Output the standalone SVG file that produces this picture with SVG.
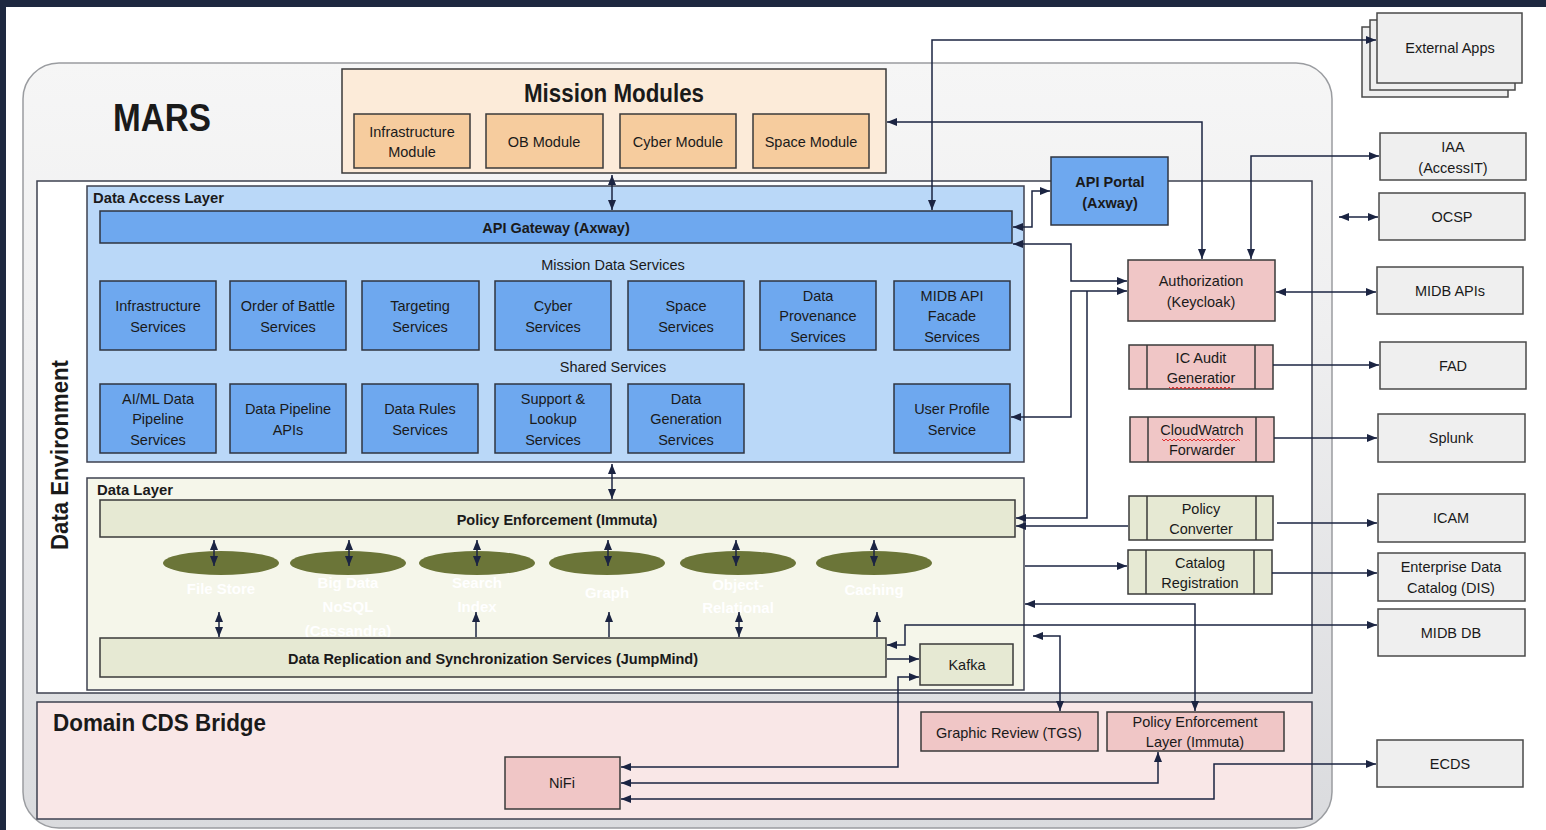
<svg xmlns="http://www.w3.org/2000/svg" width="1546" height="830" viewBox="0 0 1546 830">
<defs>
<linearGradient id="marsg" x1="0" y1="0" x2="0" y2="1">
<stop offset="0" stop-color="#f6f6f6"/>
<stop offset="0.35" stop-color="#efeff0"/>
<stop offset="1" stop-color="#dadbde"/>
</linearGradient>
<marker id="ah" viewBox="0 0 10 8" refX="10" refY="4" markerWidth="10" markerHeight="8" markerUnits="userSpaceOnUse" orient="auto-start-reverse">
<path d="M0,0 L10,4 L0,8 z" fill="#1b2442"/>
</marker>
<style>
text{font-family:"Liberation Sans",Arial,sans-serif;fill:#1a1a1a}
.t{font-size:14.5px;text-anchor:middle}
.b{font-weight:bold}
.svc{fill:#6ea8ef;stroke:#2f3440;stroke-width:1.5}
.mod{fill:#f6cc9e;stroke:#3a3a3a;stroke-width:1.5}
.ext{fill:#efefef;stroke:#4a4a4a;stroke-width:1.5}
.pink{fill:#f0c6c6;stroke:#3a3a3a;stroke-width:1.5}
.grn{fill:#e6e9d3;stroke:#3a3a3a;stroke-width:1.5}
.el{fill:#6b7538}
.wl{fill:#ffffff;font-weight:bold;font-size:15px;text-anchor:middle}
.c{fill:none;stroke:#1b2442;stroke-width:1.5}
.both{marker-start:url(#ah);marker-end:url(#ah)}
.end{marker-end:url(#ah)}
.sq{fill:none;stroke:#e03030;stroke-width:1}
</style>
</defs>
<rect x="0" y="0" width="1546" height="830" fill="#ffffff"/>
<rect x="0" y="0" width="1546" height="7" fill="#1e2840"/>
<rect x="0" y="0" width="6" height="830" fill="#1e2840"/>

<g id="mars">
<rect x="23" y="63" width="1309" height="765" rx="36" fill="url(#marsg)" stroke="#9a9ca0" stroke-width="1.5"/>
<text x="113" y="131" font-size="38" class="b" textLength="98" lengthAdjust="spacingAndGlyphs">MARS</text>
</g>

<g id="mission-modules">
<rect x="342" y="69" width="544" height="104" fill="#fcebd9" stroke="#3a3a3a" stroke-width="1.5"/>
<text x="614" y="102" font-size="25" class="b" text-anchor="middle" textLength="180" lengthAdjust="spacingAndGlyphs">Mission Modules</text>
</g>
<g id="infra-module"><rect class="mod" x="354" y="114" width="116" height="54"/><text class="t" x="412" y="137">Infrastructure</text><text class="t" x="412" y="157">Module</text></g>
<g id="ob-module"><rect class="mod" x="486" y="114" width="117" height="54"/><text class="t" x="544" y="147">OB Module</text></g>
<g id="cyber-module"><rect class="mod" x="620" y="114" width="116" height="54"/><text class="t" x="678" y="147">Cyber Module</text></g>
<g id="space-module"><rect class="mod" x="753" y="114" width="116" height="54"/><text class="t" x="811" y="147">Space Module</text></g>

<g id="data-environment">
<rect x="37" y="181" width="1275" height="512" fill="#ffffff" stroke="#3e4150" stroke-width="1.5"/>
<text transform="translate(68,455) rotate(-90)" font-size="24" class="b" text-anchor="middle" textLength="190" lengthAdjust="spacingAndGlyphs">Data Environment</text>
</g>

<g id="data-access-layer">
<rect x="87" y="186" width="937" height="276" fill="#bad8f8" stroke="#3e4150" stroke-width="1.5"/>
<text x="93" y="203" font-size="15" class="b" textLength="131" lengthAdjust="spacingAndGlyphs">Data Access Layer</text>
<text class="t" x="613" y="270">Mission Data Services</text>
<text class="t" x="613" y="372">Shared Services</text>
</g>
<g id="api-gateway"><rect class="svc" x="100" y="211" width="912" height="32"/><text class="t b" x="556" y="233" font-size="14">API Gateway (Axway)</text></g>

<g id="infra-svc"><rect class="svc" x="100" y="281" width="116" height="69"/><text class="t" x="158" y="311">Infrastructure</text><text class="t" x="158" y="332">Services</text></g>
<g id="oob-svc"><rect class="svc" x="230" y="281" width="116" height="69"/><text class="t" x="288" y="311">Order of Battle</text><text class="t" x="288" y="332">Services</text></g>
<g id="targeting-svc"><rect class="svc" x="362" y="281" width="117" height="69"/><text class="t" x="420" y="311">Targeting</text><text class="t" x="420" y="332">Services</text></g>
<g id="cyber-svc"><rect class="svc" x="495" y="281" width="116" height="69"/><text class="t" x="553" y="311">Cyber</text><text class="t" x="553" y="332">Services</text></g>
<g id="space-svc"><rect class="svc" x="628" y="281" width="116" height="69"/><text class="t" x="686" y="311">Space</text><text class="t" x="686" y="332">Services</text></g>
<g id="provenance-svc"><rect class="svc" x="760" y="281" width="116" height="69"/><text class="t" x="818" y="301">Data</text><text class="t" x="818" y="321">Provenance</text><text class="t" x="818" y="342">Services</text></g>
<g id="midb-facade"><rect class="svc" x="894" y="281" width="116" height="69"/><text class="t" x="952" y="301">MIDB API</text><text class="t" x="952" y="321">Facade</text><text class="t" x="952" y="342">Services</text></g>

<g id="aiml-svc"><rect class="svc" x="100" y="384" width="116" height="69"/><text class="t" x="158" y="404">AI/ML Data</text><text class="t" x="158" y="424">Pipeline</text><text class="t" x="158" y="445">Services</text></g>
<g id="pipeline-apis"><rect class="svc" x="230" y="384" width="116" height="69"/><text class="t" x="288" y="414">Data Pipeline</text><text class="t" x="288" y="435">APIs</text></g>
<g id="rules-svc"><rect class="svc" x="362" y="384" width="116" height="69"/><text class="t" x="420" y="414">Data Rules</text><text class="t" x="420" y="435">Services</text></g>
<g id="lookup-svc"><rect class="svc" x="495" y="384" width="116" height="69"/><text class="t" x="553" y="404">Support &amp;</text><text class="t" x="553" y="424">Lookup</text><text class="t" x="553" y="445">Services</text></g>
<g id="generation-svc"><rect class="svc" x="628" y="384" width="116" height="69"/><text class="t" x="686" y="404">Data</text><text class="t" x="686" y="424">Generation</text><text class="t" x="686" y="445">Services</text></g>
<g id="user-profile"><rect class="svc" x="894" y="384" width="116" height="69"/><text class="t" x="952" y="414">User Profile</text><text class="t" x="952" y="435">Service</text></g>

<g id="api-portal"><rect class="svc" x="1051" y="157" width="117" height="68"/><text class="t b" x="1110" y="187" font-size="14">API Portal</text><text class="t b" x="1110" y="208" font-size="14">(Axway)</text></g>

<g id="data-layer">
<rect x="87" y="478" width="937" height="212" fill="#f5f6ea" stroke="#3e4150" stroke-width="1.5"/>
<text x="97" y="495" font-size="15" class="b" textLength="76" lengthAdjust="spacingAndGlyphs">Data Layer</text>
</g>
<g id="policy-enforcement"><rect class="grn" x="100" y="500" width="915" height="37"/><text class="t b" x="557" y="525" font-size="14">Policy Enforcement (Immuta)</text></g>
<g id="file-store"><ellipse class="el" cx="221" cy="563" rx="58" ry="12"/><text class="wl" x="221" y="594">File Store</text></g>
<g id="big-data"><ellipse class="el" cx="348" cy="563" rx="58" ry="12"/><text class="wl" x="348" y="588">Big Data</text><text class="wl" x="348" y="612">NoSQL</text><text class="wl" x="348" y="636">(Cassandra)</text></g>
<g id="search-index"><ellipse class="el" cx="477" cy="563" rx="58" ry="12"/><text class="wl" x="477" y="588">Search</text><text class="wl" x="477" y="612">Index</text></g>
<g id="graph"><ellipse class="el" cx="607" cy="563" rx="58" ry="12"/><text class="wl" x="607" y="598">Graph</text></g>
<g id="object-relational"><ellipse class="el" cx="738" cy="563" rx="58" ry="12"/><text class="wl" x="738" y="590">Object-</text><text class="wl" x="738" y="613">Relational</text></g>
<g id="caching"><ellipse class="el" cx="874" cy="563" rx="58" ry="12"/><text class="wl" x="874" y="595">Caching</text></g>
<g id="replication"><rect class="grn" x="100" y="638" width="786" height="39"/><text class="t b" x="493" y="664" font-size="14">Data Replication and Synchronization Services (JumpMind)</text></g>
<g id="kafka"><rect class="grn" x="920" y="644" width="93" height="41"/><text class="t" x="967" y="670">Kafka</text></g>

<g id="domain-cds-bridge">
<rect x="37" y="702" width="1275" height="117" fill="#f9e7e7" stroke="#3e4150" stroke-width="1.5"/>
<text x="53" y="731" font-size="24" class="b" textLength="213" lengthAdjust="spacingAndGlyphs">Domain CDS Bridge</text>
</g>
<g id="tgs"><rect class="pink" x="921" y="712" width="177" height="39"/><text class="t" x="1009" y="738">Graphic Review (TGS)</text></g>
<g id="pel"><rect class="pink" x="1107" y="712" width="177" height="39"/><text class="t" x="1195" y="727">Policy Enforcement</text><text class="t" x="1195" y="747">Layer (Immuta)</text></g>
<g id="nifi"><rect class="pink" x="505" y="757" width="115" height="52"/><text class="t" x="562" y="788">NiFi</text></g>

<g id="authorization"><rect class="pink" x="1128" y="260" width="147" height="61"/><text class="t" x="1201" y="286">Authorization</text><text class="t" x="1201" y="307">(Keycloak)</text></g>
<g id="ic-audit"><rect class="pink" x="1129" y="345" width="144" height="44"/><line x1="1147" y1="345" x2="1147" y2="389" stroke="#3a3a3a" stroke-width="1.5"/><line x1="1255" y1="345" x2="1255" y2="389" stroke="#3a3a3a" stroke-width="1.5"/><text class="t" x="1201" y="363">IC Audit</text><text class="t" x="1201" y="383">Generatior</text><path class="sq" d="M1169,387 l2,2 l2,-2 l2,2 l2,-2 l2,2 l2,-2 l2,2 l2,-2 l2,2 l2,-2 l2,2 l2,-2 l2,2 l2,-2 l2,2 l2,-2 l2,2 l2,-2 l2,2 l2,-2 l2,2 l2,-2 l2,2 l2,-2 l2,2 l2,-2 l2,2 l2,-2 l2,2 l2,-2 l2,2"/></g>
<g id="cloudwatch"><rect class="pink" x="1130" y="417" width="144" height="45"/><line x1="1148" y1="417" x2="1148" y2="462" stroke="#3a3a3a" stroke-width="1.5"/><line x1="1256" y1="417" x2="1256" y2="462" stroke="#3a3a3a" stroke-width="1.5"/><text class="t" x="1202" y="435">CloudWatrch</text><text class="t" x="1202" y="455">Forwarder</text><path class="sq" d="M1162,439 l2,2 l2,-2 l2,2 l2,-2 l2,2 l2,-2 l2,2 l2,-2 l2,2 l2,-2 l2,2 l2,-2 l2,2 l2,-2 l2,2 l2,-2 l2,2 l2,-2 l2,2 l2,-2 l2,2 l2,-2 l2,2 l2,-2 l2,2 l2,-2 l2,2 l2,-2 l2,2 l2,-2 l2,2 l2,-2 l2,2 l2,-2 l2,2 l2,-2 l2,2 l2,-2 l2,2"/></g>
<g id="policy-converter"><rect class="grn" x="1129" y="496" width="144" height="44"/><line x1="1147" y1="496" x2="1147" y2="540" stroke="#3a3a3a" stroke-width="1.5"/><line x1="1256" y1="496" x2="1256" y2="540" stroke="#3a3a3a" stroke-width="1.5"/><text class="t" x="1201" y="514">Policy</text><text class="t" x="1201" y="534">Converter</text></g>
<g id="catalog-registration"><rect class="grn" x="1128" y="550" width="144" height="44"/><line x1="1146" y1="550" x2="1146" y2="594" stroke="#3a3a3a" stroke-width="1.5"/><line x1="1254" y1="550" x2="1254" y2="594" stroke="#3a3a3a" stroke-width="1.5"/><text class="t" x="1200" y="568">Catalog</text><text class="t" x="1200" y="588">Registration</text></g>

<g id="external-apps">
<rect class="ext" x="1362" y="27" width="146" height="70"/>
<rect class="ext" x="1370" y="20" width="145" height="70"/>
<rect class="ext" x="1377" y="13" width="145" height="70"/>
<text class="t" x="1450" y="53">External Apps</text>
</g>
<g id="iaa"><rect class="ext" x="1380" y="133" width="146" height="47"/><text class="t" x="1453" y="152">IAA</text><text class="t" x="1453" y="173">(AccessIT)</text></g>
<g id="ocsp"><rect class="ext" x="1379" y="193" width="146" height="47"/><text class="t" x="1452" y="222">OCSP</text></g>
<g id="midb-apis"><rect class="ext" x="1377" y="267" width="146" height="47"/><text class="t" x="1450" y="296">MIDB APIs</text></g>
<g id="fad"><rect class="ext" x="1380" y="342" width="146" height="47"/><text class="t" x="1453" y="371">FAD</text></g>
<g id="splunk"><rect class="ext" x="1378" y="414" width="147" height="48"/><text class="t" x="1451" y="443">Splunk</text></g>
<g id="icam"><rect class="ext" x="1378" y="494" width="147" height="48"/><text class="t" x="1451" y="523">ICAM</text></g>
<g id="edc"><rect class="ext" x="1378" y="553" width="147" height="48"/><text class="t" x="1451" y="572">Enterprise Data</text><text class="t" x="1451" y="593">Catalog (DIS)</text></g>
<g id="midb-db"><rect class="ext" x="1378" y="609" width="147" height="47"/><text class="t" x="1451" y="638">MIDB DB</text></g>
<g id="ecds"><rect class="ext" x="1377" y="740" width="146" height="47"/><text class="t" x="1450" y="769">ECDS</text></g>

<g id="connectors">
<path class="c both" d="M612,175 L612,210"/>
<path class="c both" d="M612,464 L612,499"/>
<path class="c both" d="M214,540 L214,566"/>
<path class="c both" d="M349,540 L349,566"/>
<path class="c both" d="M477,540 L477,566"/>
<path class="c both" d="M608,540 L608,566"/>
<path class="c both" d="M736,540 L736,566"/>
<path class="c both" d="M874,540 L874,566"/>
<path class="c both" d="M219,612 L219,637"/>
<path class="c end" d="M476,637 L476,612"/>
<path class="c end" d="M609,637 L609,612"/>
<path class="c both" d="M739,612 L739,637"/>
<path class="c end" d="M877,637 L877,612"/>
<path class="c both" d="M932,210 L932,40 L1376,40"/>
<path class="c both" d="M887,122 L1202,122 L1202,259"/>
<path class="c both" d="M1251,259 L1251,156 L1379,156"/>
<path class="c both" d="M1339,217 L1378,217"/>
<path class="c both" d="M1013,227 L1032,227 L1032,191 L1050,191"/>
<path class="c both" d="M1013,244 L1071,244 L1071,281 L1127,281"/>
<path class="c both" d="M1011,417 L1071,417 L1071,291 L1127,291"/>
<path class="c" d="M1016,518 L1087,518 L1087,291" marker-start="url(#ah)"/>
<path class="c end" d="M1128,526 L1016,526"/>
<path class="c end" d="M1025,566 L1127,566"/>
<path class="c both" d="M1276,292 L1376,292"/>
<path class="c end" d="M1273,365 L1379,365"/>
<path class="c end" d="M1274,438 L1377,438"/>
<path class="c end" d="M1277,523 L1377,523"/>
<path class="c end" d="M1272,573 L1377,573"/>
<path class="c both" d="M887,645 L905,645 L905,625 L1377,625"/>
<path class="c both" d="M1025,604 L1195,604 L1195,711"/>
<path class="c both" d="M1033,636 L1060,636 L1060,711"/>
<path class="c end" d="M887,659 L919,659"/>
<path class="c both" d="M621,767 L898,767 L898,677 L919,677"/>
<path class="c both" d="M621,783 L1158,783 L1158,752"/>
<path class="c both" d="M621,799 L1214,799 L1214,764 L1376,764"/>
</g>
</svg>
